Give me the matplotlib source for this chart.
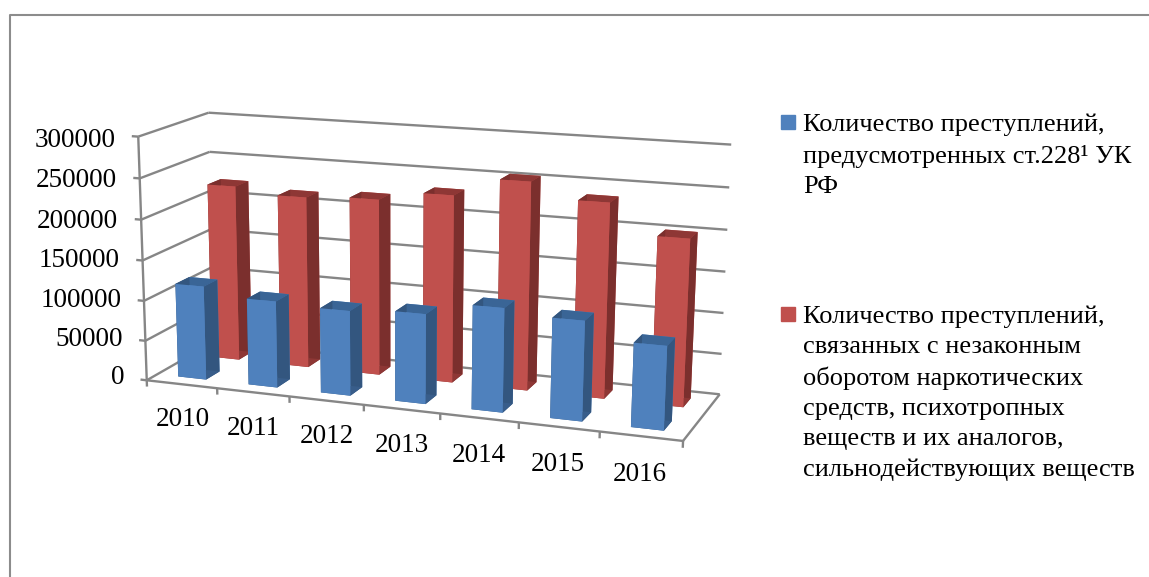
import numpy as np
import matplotlib
matplotlib.use("Agg")
import matplotlib.pyplot as plt
from matplotlib.lines import Line2D
from matplotlib.patches import Rectangle
from mpl_toolkits.mplot3d import proj3d
from mpl_toolkits.mplot3d.art3d import Line3DCollection

years = ["2010", "2011", "2012", "2013", "2014", "2015", "2016"]
crimes_228 = [117000, 107000, 104000, 109000, 125000, 119000, 99000]
crimes_all = [222000, 215000, 219000, 231000, 254000, 236000, 201000]
z_ticks = [0, 50000, 100000, 150000, 200000, 250000, 300000]
label_228 = "Количество преступлений,\nпредусмотренных ст.228¹ УК\nРФ"
label_all = ("Количество преступлений,\nсвязанных с незаконным\nоборотом наркотических\n"
             "средств, психотропных\nвеществ и их аналогов,\nсильнодействующих веществ")

W, H = 1149, 577
Z_MAX = 300000
GRID = "#868686"

plt.rcParams["font.family"] = ["Liberation Serif", "DejaVu Serif"]


# Camera matrix fitted to where the corners of the plot box sit in the picture
def fit_camera():
    box = [(0, 0, 0), (7, 0, 0), (7, 1, 0), (0, 1, 0),
           (0, 0, 1), (0, 1, 1), (7, 1, 1)]
    pix = [(148, 378), (683, 443), (720, 392), (213, 344),
           (137, 137), (210, 112), (731, 145)]
    rows = []
    for (x, y, z), (u, v) in zip(box, pix):
        p = [x, y, z, 1]
        rows.append(p + [0, 0, 0, 0] + [-u * c for c in p])
        rows.append([0, 0, 0, 0] + p + [-v * c for c in p])
    cam = np.linalg.svd(np.array(rows))[2][-1].reshape(3, 4)
    if cam[2, 3] < 0:
        cam = -cam
    cam[:, 2] /= Z_MAX
    # third row only decides drawing order, nearer faces get smaller values
    return np.array([cam[0], cam[1], [0, 1e-3, 0, 0], cam[2]])


# Tick label placed at a point of the 3D box
def box_label(x, y, z, text, ha):
    px, py, _ = proj3d.proj_transform(x, y, z, camera)
    fig.text(px / W, 1 - py / H, text, ha=ha, va="center", fontsize=19.5)


fig = plt.figure(figsize=(W / 100, H / 100), dpi=100)
# 3D axes always get a square box, so make it as wide as the figure
ax = fig.add_axes([0, (H - W) / 2 / H, 1, W / H], projection="3d")
ax.computed_zorder = False
ax.set_axis_off()
camera = fit_camera()
ax.get_proj = lambda: camera

# walls, floor and ticks
segments = []
for z in z_ticks:
    segments.append([(0, 0, z), (0, 1, z)])
    segments.append([(0, 1, z), (7, 1, z)])
    segments.append([(-0.09, 0, z), (0, 0, z)])
    box_label(-0.325, 0, z * 0.98, str(z), "right")
segments.append([(0, 0, 0), (0, 0, Z_MAX)])
segments.append([(0, 0, 0), (7, 0, 0)])
segments.append([(7, 0, 0), (7, 1, 0)])
for i in range(len(years) + 1):
    segments.append([(i, 0, 0), (i, 0, -8000)])
ax.add_collection3d(Line3DCollection(segments, colors=GRID, linewidths=1.7, zorder=1))

xs = np.arange(len(years)) + 0.3
# faces: bottom, top, front, back, left, right
blue_faces = ["#385D8A", "#3A6596", "#4F81BD", "#4F81BD", "#33567F", "#33567F"]
red_faces = ["#8E3735", "#8E3735", "#C0504D", "#C0504D", "#7B2F2D", "#7B2F2D"]
ax.bar3d(xs, np.full(7, 0.65), np.zeros(7), 0.4, 0.2, crimes_all,
         color=red_faces * 7, shade=False, zorder=2)
ax.bar3d(xs, np.full(7, 0.15), np.zeros(7), 0.4, 0.2, crimes_228,
         color=blue_faces * 7, shade=False, zorder=3)

for i, year in enumerate(years):
    box_label(i + 0.5, 0, -45000, year, "center")

# the 2D limits of a 3D axes are the camera's output, here picture pixels
ax.viewLim.intervalx = (0, W)
ax.viewLim.intervaly = (H + (W - H) / 2, -(W - H) / 2)

# outer frame, cut by the edge of the picture
fig.add_artist(Line2D([9.5 / W, 9.5 / W, 1], [0, 1 - 15 / H, 1 - 15 / H],
                      color="#8C8C8C", lw=1.5))

# legend
for top, label, color, y in [(115, label_228, "#4F81BD", 114), (307, label_all, "#C0504D", 306)]:
    fig.add_artist(Rectangle((781 / W, 1 - (top + 14) / H), 14 / W, 14 / H,
                             color=color, transform=fig.transFigure))
    fig.text(803 / W, 1 - y / H, label, fontsize=19, va="top", ha="left", linespacing=1.46)

fig.savefig("out.png", dpi=100)
